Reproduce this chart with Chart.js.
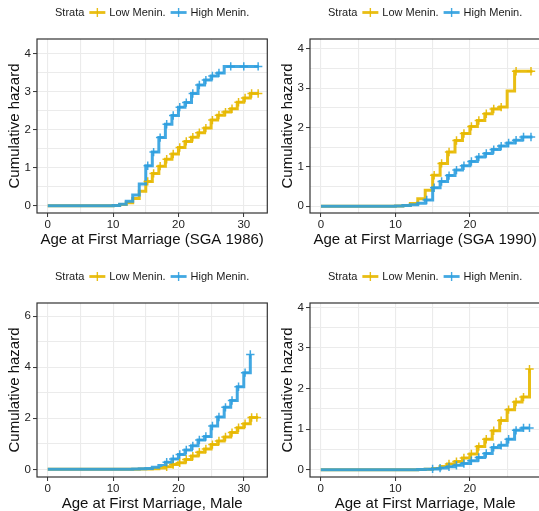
<!DOCTYPE html>
<html>
<head>
<meta charset="utf-8">
<script src="https://cdn.jsdelivr.net/npm/chart.js@4.4.0/dist/chart.umd.min.js"></script>
<style>
  html, body { margin: 0; padding: 0; background: #fff; }
  body { width: 539px; height: 511px; overflow: hidden; position: relative; }
  canvas { position: absolute; }
</style>
</head>
<body>
<canvas id="chart1986" width="273" height="264" style="left:0;top:0"></canvas>
<canvas id="chart1990" width="273" height="264" style="left:273px;top:0"></canvas>
<canvas id="chartMaleA" width="273" height="264" style="left:0;top:264px"></canvas>
<canvas id="chartMaleB" width="273" height="264" style="left:273px;top:264px"></canvas>
<script>
// ---------------- DATA -----------------------------

// SGA 1986
const ages1986 = [0, 10, 11, 12, 13, 14, 15, 16, 17, 18, 19, 20, 21, 22, 23, 24, 25, 26, 27, 28, 29, 30, 31, 32.3];
const low1986 = [0, 0.01, 0.03, 0.08, 0.19, 0.38, 0.64, 0.85, 1.04, 1.22, 1.36, 1.53, 1.69, 1.8, 1.92, 2.04, 2.25, 2.38, 2.46, 2.55, 2.72, 2.83, 2.95, 2.95];
const high1986 = [0, 0.01, 0.04, 0.12, 0.28, 0.57, 1.05, 1.41, 1.79, 2.14, 2.37, 2.59, 2.71, 2.95, 3.17, 3.3, 3.41, 3.49, 3.66, 3.66, 3.66, 3.66, 3.66, 3.66];
const lowCens1986 = [15.3, 16.2, 17.2, 18.2, 19.2, 20.2, 21.2, 22.2, 23.2, 24.2, 25.2, 26.2, 27.2, 28.2, 29.2, 30.2, 31.2, 32.2];
const highCens1986 = [15.3, 16.2, 17.2, 18.2, 19.2, 20.2, 21.2, 22.2, 23.2, 24.2, 25.2, 26.2, 28, 30, 32.2];

// SGA 1990
const ages1990 = [0, 10, 11, 12, 13, 14, 15, 16, 17, 18, 19, 20, 21, 22, 23, 24, 25, 26, 27, 28.4];
const low1990 = [0, 0.01, 0.02, 0.07, 0.19, 0.41, 0.79, 1.09, 1.38, 1.67, 1.85, 2.03, 2.18, 2.35, 2.47, 2.52, 2.93, 3.43, 3.43, 3.43];
const high1990 = [0, 0.01, 0.02, 0.04, 0.08, 0.16, 0.47, 0.63, 0.78, 0.92, 1.03, 1.14, 1.25, 1.34, 1.44, 1.53, 1.61, 1.68, 1.76, 1.76];
const lowCens1990 = [15.2, 16.2, 17.2, 18.2, 19.2, 20.2, 21.2, 22.2, 23.2, 24.2, 26.2, 28.2];
const highCens1990 = [14.2, 15.2, 16.2, 17.2, 18.2, 19.2, 20.2, 21.2, 22.2, 23.2, 24.2, 25.2, 26.2, 27.2, 28.2];

// Male, left panel
const agesMaleA = [0, 12, 13, 14, 15, 16, 17, 18, 19, 20, 21, 22, 23, 24, 25, 26, 27, 28, 29, 30, 31, 32.2];
const lowMaleA = [0, 0, 0.005, 0.01, 0.015, 0.02, 0.05, 0.1, 0.19, 0.26, 0.39, 0.52, 0.67, 0.8, 0.97, 1.11, 1.27, 1.44, 1.63, 1.79, 2.03, 2.03];
const highMaleA = [0, 0.005, 0.01, 0.02, 0.03, 0.08, 0.15, 0.28, 0.41, 0.58, 0.76, 0.92, 1.15, 1.29, 1.7, 2.05, 2.43, 2.7, 3.24, 3.79, 4.5, null];
const lowCensMaleA = [18.2, 19.2, 20.2, 21.2, 22.2, 23.2, 24.2, 25.2, 26.2, 27.2, 28.2, 29.2, 30.2, 31.2, 32];
const highCensMaleA = [18.2, 19.2, 20.2, 21.2, 22.2, 23.2, 24.2, 25.2, 26.2, 27.2, 28.2, 29.2, 30.2, 31];

// Male, right panel
const agesMaleB = [0, 13, 14, 15, 16, 17, 18, 19, 20, 21, 22, 23, 24, 25, 26, 27, 28];
const lowMaleB = [0, 0.005, 0.01, 0.03, 0.08, 0.14, 0.2, 0.29, 0.39, 0.57, 0.75, 0.96, 1.21, 1.48, 1.67, 1.79, 2.48];
const highMaleB = [0, 0.003, 0.01, 0.02, 0.04, 0.07, 0.11, 0.15, 0.22, 0.3, 0.4, 0.55, 0.6, 0.75, 0.97, 1.03, 1.03];
const lowCensMaleB = [17.2, 18.2, 19.2, 20.2, 21.2, 22.2, 23.2, 24.2, 25.2, 26.2, 27.2, 28];
const highCensMaleB = [15, 16, 17.2, 18.2, 19.2, 20.2, 21.2, 22.2, 23.2, 24.2, 25.2, 26.2, 27.2, 28];

const strataLabels = ["Low Menin.", "High Menin."];

// ---------------- STYLE -----------------------------
const YELLOW = "rgba(231, 184, 0, 0.92)";
const BLUE = "rgba(46, 159, 223, 0.9)";
const FONT = '"Liberation Sans", Arial, Helvetica, sans-serif';
const GRID = "#EBEBEB";

// value of the step curve at age t
function stepValue(ages, vals, t) {
  let v = 0;
  for (let i = 0; i < ages.length; i++) {
    if (ages[i] <= t + 1e-9 && vals[i] !== null) v = vals[i];
  }
  return v;
}

// frame around the panel + "Strata" legend on top
const frameAndLegend = {
  id: "frameAndLegend",
  afterDraw(chart) {
    const { ctx, chartArea } = chart;
    const { left, top, right, bottom } = chartArea;
    ctx.save();
    ctx.strokeStyle = "#333";
    ctx.lineWidth = 1.2;
    ctx.strokeRect(left, top, right - left, bottom - top);

    ctx.font = "11px " + FONT;
    ctx.textBaseline = "middle";
    ctx.fillStyle = "#1a1a1a";
    const y = 12.5;
    const sym = 16;
    const wStrata = ctx.measureText("Strata").width;
    const wLow = ctx.measureText(strataLabels[0]).width;
    const wHigh = ctx.measureText(strataLabels[1]).width;
    const total = wStrata + 5 + sym + 4 + wLow + 5 + sym + 4 + wHigh;
    let x = (left + right) / 2 - total / 2;
    ctx.fillText("Strata", x, y);
    x += wStrata + 5;
    [[YELLOW, strataLabels[0], wLow], [BLUE, strataLabels[1], wHigh]].forEach(([col, txt, w]) => {
      ctx.strokeStyle = col;
      ctx.lineWidth = 2.8;
      ctx.beginPath();
      ctx.moveTo(x, y);
      ctx.lineTo(x + sym, y);
      ctx.stroke();
      ctx.lineWidth = 1.4;
      ctx.beginPath();
      ctx.moveTo(x + sym / 2, y - 4.5);
      ctx.lineTo(x + sym / 2, y + 4.5);
      ctx.stroke();
      x += sym + 4;
      ctx.fillStyle = "#1a1a1a";
      ctx.fillText(txt, x, y);
      x += w + 5;
    });
    ctx.restore();
  },
};

function makePanel(id, cfg) {
  const pairs = (vals) => cfg.ages.map((a, i) => ({ x: a, y: vals[i] }));
  const cens = (times, vals) => times.map((t) => ({ x: t, y: stepValue(cfg.ages, vals, t) }));

  const config = {
    type: "line",
    data: {
      datasets: [
        {
          label: strataLabels[1] + " censor",
          data: cens(cfg.highCens, cfg.high),
          showLine: false,
          pointStyle: "cross",
          pointRadius: 4.2,
          pointBorderWidth: 1.5,
          borderColor: BLUE,
          order: 0,
        },
        {
          label: strataLabels[0] + " censor",
          data: cens(cfg.lowCens, cfg.low),
          showLine: false,
          pointStyle: "cross",
          pointRadius: 4.2,
          pointBorderWidth: 1.5,
          borderColor: YELLOW,
          order: 0,
        },
        {
          label: strataLabels[1],
          data: pairs(cfg.high),
          stepped: true,
          borderColor: BLUE,
          borderWidth: 3,
          pointRadius: 0,
          spanGaps: false,
          order: 1,
        },
        {
          label: strataLabels[0],
          data: pairs(cfg.low),
          stepped: true,
          borderColor: YELLOW,
          borderWidth: 3,
          pointRadius: 0,
          order: 2,
        },
      ],
    },
    options: {
      responsive: false,
      animation: false,
      layout: { padding: { top: 39, right: 4, left: 0, bottom: 0 } },
      plugins: { legend: { display: false }, tooltip: { enabled: false } },
      scales: {
        x: {
          type: "linear",
          min: cfg.xMin,
          max: cfg.xMax,
          afterFit: (s) => { s.height = 51; },
          border: { display: false },
          grid: {
            color: GRID,
            lineWidth: 1.1,
            tickLength: 4,
            tickWidth: 1,
            tickColor: (c) => (c.tick && c.tick.value % 10 === 0 ? "#333" : "rgba(0,0,0,0)"),
          },
          ticks: {
            stepSize: 5,
            includeBounds: false,
            autoSkip: false,
            maxRotation: 0,
            padding: 1,
            color: "#222",
            font: { family: FONT, size: 11.5 },
            callback: (v) => (v % 10 === 0 ? v : ""),
          },
          title: {
            display: true,
            text: cfg.xTitle,
            color: "#111",
            font: { family: FONT, size: 15 },
            padding: { top: 0, bottom: 15 },
          },
        },
        y: {
          type: "linear",
          min: cfg.yMin,
          max: cfg.yMax,
          afterFit: (s) => { s.width = 37; },
          border: { display: false },
          grid: {
            color: GRID,
            lineWidth: 1.1,
            tickLength: 4,
            tickWidth: 1,
            tickColor: (c) => (c.tick && Math.abs(c.tick.value % cfg.yLabelStep) < 1e-9 ? "#333" : "rgba(0,0,0,0)"),
          },
          ticks: {
            stepSize: cfg.yGridStep,
            includeBounds: false,
            autoSkip: false,
            padding: 2,
            color: "#222",
            font: { family: FONT, size: 11.5 },
            callback: (v) => (Math.abs(v % cfg.yLabelStep) < 1e-9 ? v : ""),
          },
          title: {
            display: true,
            text: "Cumulative hazard",
            color: "#111",
            font: { family: FONT, size: 15 },
            padding: { top: 6, bottom: 0 },
          },
        },
      },
    },
    plugins: [frameAndLegend],
  };

  return new Chart(document.getElementById(id), config);
}

// ---------------- RENDER THE CHARTS -----------------------------
makePanel("chart1986", {
  ages: ages1986, low: low1986, high: high1986,
  lowCens: lowCens1986, highCens: highCens1986,
  xMin: -1.65, xMax: 33.6, yMin: -0.19, yMax: 4.38, yGridStep: 0.5, yLabelStep: 1,
  xTitle: "Age at First Marriage (SGA 1986)",
});

makePanel("chart1990", {
  ages: ages1990, low: low1990, high: high1990,
  lowCens: lowCens1990, highCens: highCens1990,
  xMin: -1.47, xMax: 29.45, yMin: -0.17, yMax: 4.25, yGridStep: 0.5, yLabelStep: 1,
  xTitle: "Age at First Marriage (SGA 1990)",
});

makePanel("chartMaleA", {
  ages: agesMaleA, low: lowMaleA, high: highMaleA,
  lowCens: lowCensMaleA, highCens: highCensMaleA,
  xMin: -1.65, xMax: 33.6, yMin: -0.3, yMax: 6.52, yGridStep: 1, yLabelStep: 2,
  xTitle: "Age at First Marriage, Male",
});

makePanel("chartMaleB", {
  ages: agesMaleB, low: lowMaleB, high: highMaleB,
  lowCens: lowCensMaleB, highCens: highCensMaleB,
  xMin: -1.45, xMax: 29.45, yMin: -0.18, yMax: 4.11, yGridStep: 0.5, yLabelStep: 1,
  xTitle: "Age at First Marriage, Male",
});
</script>
</body>
</html>
